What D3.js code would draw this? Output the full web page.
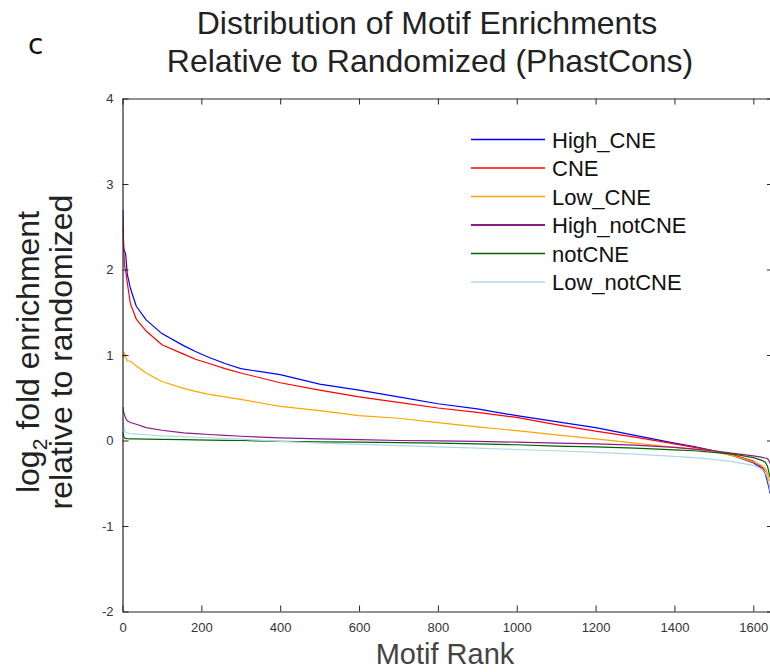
<!DOCTYPE html>
<html>
<head>
<meta charset="utf-8">
<script src="https://cdn.jsdelivr.net/npm/d3@7"></script>
<style>
  body { margin: 0; background: #fff; }
  svg { display: block; font-family: "Liberation Sans", Arial, sans-serif; }
</style>
</head>
<body>
<svg id="chart"></svg>
<script>
var ranks = [1, 3, 5, 8, 12, 20, 35, 60, 100, 155, 185, 220, 260, 300, 400, 500, 600, 700, 800, 900,
             1000, 1100, 1200, 1300, 1400, 1450, 1500, 1550, 1600, 1620, 1630, 1636, 1640, 1643];

var highCNE = [2.70, 2.25, 2.22, 2.18, 1.95, 1.78, 1.57, 1.41, 1.25, 1.11, 1.04, 0.97, 0.90, 0.84, 0.77, 0.66, 0.59, 0.51, 0.43, 0.37,
               0.29, 0.22, 0.15, 0.06, -0.03, -0.07, -0.12, -0.18, -0.26, -0.32, -0.38, -0.48, -0.56, -0.62];
var cne = [2.50, 2.25, 2.05, 1.98, 1.85, 1.60, 1.42, 1.28, 1.12, 1.01, 0.95, 0.90, 0.84, 0.79, 0.675, 0.59, 0.51, 0.445, 0.38, 0.33,
           0.27, 0.185, 0.11, 0.04, -0.04, -0.08, -0.12, -0.17, -0.24, -0.30, -0.36, -0.45, -0.52, -0.56];
var lowCNE = [1.00, 0.97, 1.02, 0.98, 0.93, 0.93, 0.87, 0.79, 0.69, 0.61, 0.575, 0.54, 0.51, 0.48, 0.40, 0.35, 0.29, 0.26, 0.21, 0.16,
              0.115, 0.065, 0.02, -0.03, -0.08, -0.10, -0.13, -0.18, -0.25, -0.29, -0.33, -0.38, -0.45, -0.48];
var highNotCNE = [0.39, 0.33, 0.30, 0.26, 0.23, 0.21, 0.19, 0.15, 0.12, 0.09, 0.08, 0.07, 0.06, 0.05, 0.03, 0.02, 0.01, 0.0, -0.005, -0.01,
                  -0.02, -0.03, -0.04, -0.055, -0.08, -0.10, -0.12, -0.15, -0.18, -0.195, -0.205, -0.21, -0.24, -0.27];
var notCNE = [0.10, 0.05, 0.03, 0.025, 0.022, 0.02, 0.018, 0.015, 0.012, 0.01, 0.008, 0.005, 0.002, 0.0, -0.01, -0.015, -0.02, -0.025, -0.03, -0.04,
              -0.05, -0.065, -0.075, -0.09, -0.11, -0.12, -0.14, -0.16, -0.20, -0.23, -0.25, -0.30, -0.38, -0.43];
var lowNotCNE = [0.26, 0.16, 0.12, 0.10, 0.09, 0.08, 0.075, 0.067, 0.055, 0.045, 0.038, 0.032, 0.024, 0.015, -0.01, -0.03, -0.045, -0.06, -0.075, -0.09,
                 -0.105, -0.12, -0.14, -0.16, -0.185, -0.20, -0.22, -0.25, -0.29, -0.33, -0.37, -0.43, -0.52, -0.60];

var seriesNames = ["High_CNE", "CNE", "Low_CNE", "High_notCNE", "notCNE", "Low_notCNE"];
var seriesValues = [highCNE, cne, lowCNE, highNotCNE, notCNE, lowNotCNE];
var seriesColors = ["#0000ff", "#ff0000", "#ffa500", "#8b1a8b", "#006400", "#add8e6"];

var xTicks = [0, 200, 400, 600, 800, 1000, 1200, 1400, 1600];
var yTicks = [-2, -1, 0, 1, 2, 3, 4];

var width = 770, height = 672;
var svg = d3.select("#chart").attr("width", width).attr("height", height);

var plotLeft = 122.5, plotRight = 773, plotTop = 98.5, plotBottom = 611.5;

var x = d3.scaleLinear().domain([0, 1650]).range([plotLeft, plotRight]);
var y = d3.scaleLinear().domain([-2, 4]).range([plotBottom, plotTop]);

svg.append("defs").append("clipPath").attr("id", "plotclip")
  .append("rect").attr("x", plotLeft).attr("y", plotTop)
  .attr("width", plotRight - plotLeft).attr("height", plotBottom - plotTop);

// curves
var line = d3.line()
  .x(d => x(d[0]))
  .y(d => y(d[1]));

var curves = svg.append("g").attr("clip-path", "url(#plotclip)");
seriesValues.forEach(function(vals, i) {
  curves.append("path")
    .datum(ranks.map((r, j) => [r, vals[j]]))
    .attr("d", line)
    .attr("fill", "none")
    .attr("stroke", seriesColors[i])
    .attr("stroke-width", 1.2);
});

// axes (MATLAB style box with inward ticks)
var axisColor = "#262626";
var tickLen = 6;

function styleAxis(g) {
  g.attr("font-size", 13).attr("font-family", "'Liberation Sans', Arial, sans-serif");
  g.select(".domain").attr("stroke", axisColor).attr("stroke-width", 1.2);
  g.selectAll(".tick line").attr("stroke", axisColor).attr("stroke-width", 1);
  g.selectAll(".tick text").attr("fill", "#333");
}

svg.append("g")
  .attr("transform", `translate(0,${plotBottom})`)
  .call(d3.axisBottom(x).tickValues(xTicks).tickSizeInner(-tickLen).tickSizeOuter(0).tickPadding(11).tickFormat(d => String(d)))
  .call(styleAxis);

svg.append("g")
  .attr("transform", `translate(0,${plotTop})`)
  .call(d3.axisTop(x).tickValues(xTicks).tickSizeInner(-tickLen).tickSizeOuter(0).tickFormat(""))
  .call(styleAxis);

svg.append("g")
  .attr("transform", `translate(${plotLeft},0)`)
  .call(d3.axisLeft(y).tickValues(yTicks).tickSizeInner(-tickLen).tickSizeOuter(0).tickPadding(9).tickFormat(d => String(d)))
  .call(styleAxis);

svg.append("g")
  .attr("transform", `translate(${plotRight},0)`)
  .call(d3.axisRight(y).tickValues(yTicks).tickSizeInner(-tickLen).tickSizeOuter(0).tickFormat(""))
  .call(styleAxis);

// titles
var title = svg.append("text")
  .attr("text-anchor", "middle")
  .attr("fill", "#222")
  .style("font-size", "32px");
title.append("tspan").attr("x", 427).attr("y", 34).text("Distribution of Motif Enrichments");
title.append("tspan").attr("x", 430).attr("y", 72).text("Relative to Randomized (PhastCons)");

svg.append("text")
  .attr("x", 28).attr("y", 54)
  .attr("fill", "#111")
  .style("font-family", "'DejaVu Sans', sans-serif")
  .style("font-size", "28px")
  .text("c");

svg.append("text")
  .attr("x", 445).attr("y", 664)
  .attr("text-anchor", "middle")
  .attr("fill", "#444")
  .style("font-size", "29px")
  .text("Motif Rank");

var ylab = svg.append("text")
  .attr("transform", "translate(0,352) rotate(-90)")
  .attr("text-anchor", "middle")
  .attr("fill", "#222")
  .style("font-size", "32px");
var l1 = ylab.append("tspan").attr("x", 0).attr("y", 39);
l1.append("tspan").text("log");
l1.append("tspan").attr("dy", 8).style("font-size", "21px").text("2");
l1.append("tspan").attr("dy", -8).text(" fold enrichment");
ylab.append("tspan").attr("x", 0).attr("y", 72).text("relative to randomized");

// legend
var legend = svg.append("g");
seriesNames.forEach(function(name, i) {
  var ly = 139.5 + i * 28.5;
  legend.append("line")
    .attr("x1", 471).attr("x2", 545)
    .attr("y1", ly).attr("y2", ly)
    .attr("stroke", seriesColors[i])
    .attr("stroke-width", i === 3 ? 2 : 1.4);
  legend.append("text")
    .attr("x", 552).attr("y", ly + 8)
    .attr("fill", "#111")
    .style("font-size", "22px")
    .text(name);
});
</script>
</body>
</html>
